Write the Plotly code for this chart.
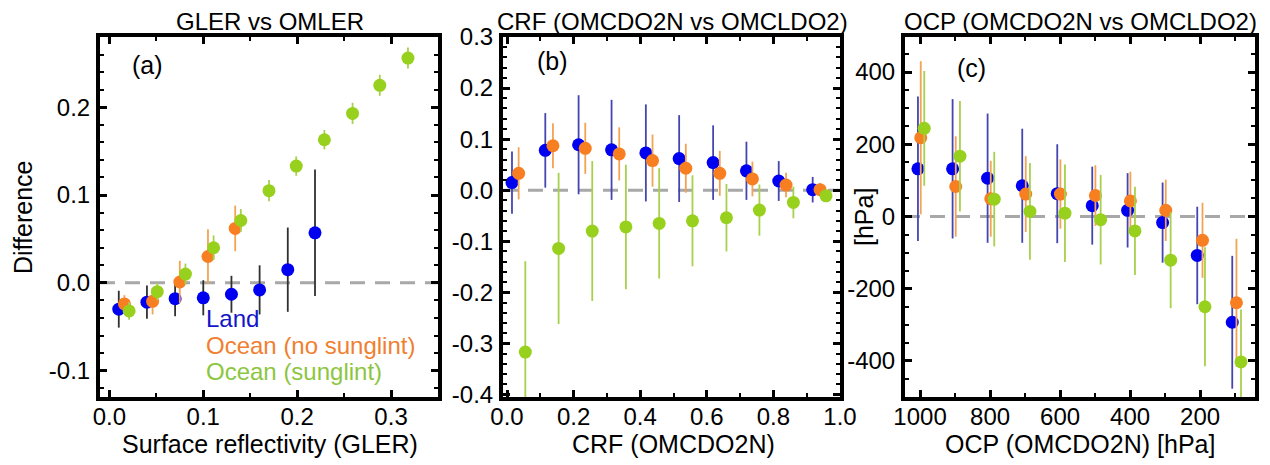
import plotly.graph_objects as go

# ---------------- data ----------------
# Panel (a): GLER vs OMLER, x = surface reflectivity (GLER)
a_land_x = [0.010, 0.040, 0.070, 0.100, 0.130, 0.160, 0.190, 0.219]
a_land_y = [-0.030, -0.022, -0.018, -0.017, -0.013, -0.008, 0.015, 0.057]
a_land_e = [0.021, 0.019, 0.020, 0.020, 0.021, 0.028, 0.048, 0.072]

a_ons_x = [0.016, 0.046, 0.075, 0.105, 0.134]
a_ons_y = [-0.024, -0.021, 0.001, 0.030, 0.062]
a_ons_e = [0.010, 0.015, 0.024, 0.031, 0.026]

a_os_x = [0.021, 0.051, 0.081, 0.111, 0.140, 0.170, 0.199, 0.229, 0.259, 0.288, 0.318]
a_os_y = [-0.032, -0.010, 0.010, 0.040, 0.071, 0.105, 0.133, 0.163, 0.193, 0.225, 0.256]
a_os_e = [0.010, 0.010, 0.012, 0.014, 0.013, 0.012, 0.011, 0.011, 0.012, 0.012, 0.012]

# Panel (b): CRF (OMCDO2N vs OMCLDO2)
b_land_x = [0.015, 0.115, 0.215, 0.314, 0.417, 0.517, 0.619, 0.719, 0.816, 0.918]
b_land_y = [0.015, 0.078, 0.089, 0.079, 0.073, 0.062, 0.054, 0.038, 0.018, 0.001]
b_land_e = [0.061, 0.073, 0.097, 0.098, 0.095, 0.085, 0.073, 0.057, 0.039, 0.025]

b_ons_x = [0.035, 0.138, 0.235, 0.337, 0.437, 0.537, 0.639, 0.737, 0.838, 0.940]
b_ons_y = [0.033, 0.087, 0.082, 0.071, 0.058, 0.043, 0.033, 0.022, 0.010, 0.001]
b_ons_e = [0.051, 0.044, 0.050, 0.052, 0.051, 0.048, 0.044, 0.034, 0.024, 0.013]

b_os_x = [0.055, 0.155, 0.256, 0.357, 0.457, 0.557, 0.659, 0.758, 0.860, 0.958]
b_os_y = [-0.317, -0.114, -0.080, -0.072, -0.065, -0.060, -0.054, -0.039, -0.024, -0.011]
b_os_e = [0.178, 0.148, 0.137, 0.122, 0.108, 0.089, 0.066, 0.050, 0.031, 0.012]

# Panel (c): OCP (OMCDO2N vs OMCLDO2) [hPa]
c_land_x = [1006, 907, 807, 708, 608, 508, 407, 307, 208, 108]
c_land_y = [132, 132, 106, 85, 63, 30, 17, -17, -108, -293]
c_land_e = [200, 193, 179, 158, 137, 108, 103, 111, 135, 184]

c_ons_x = [998, 898, 798, 698, 599, 499, 399, 298, 193, 96]
c_ons_y = [218, 83, 49, 62, 62, 58, 43, 17, -66, -239]
c_ons_e = [212, 139, 105, 105, 96, 84, 81, 85, 104, 177]

c_os_x = [988, 886, 788, 686, 586, 484, 386, 284, 186, 83]
c_os_y = [244, 167, 48, 14, 9, -9, -40, -121, -250, -403]
c_os_e = [159, 153, 131, 134, 135, 124, 122, 133, 165, 145]

# tick labels
a_xticks = [0.0, 0.1, 0.2, 0.3]
a_xlabels = ["0.0", "0.1", "0.2", "0.3"]
a_yticks = [-0.1, 0.0, 0.1, 0.2]
a_ylabels = ["-0.1", "0.0", "0.1", "0.2"]
b_xticks = [0.0, 0.2, 0.4, 0.6, 0.8, 1.0]
b_xlabels = ["0.0", "0.2", "0.4", "0.6", "0.8", "1.0"]
b_yticks = [-0.4, -0.3, -0.2, -0.1, 0.0, 0.1, 0.2, 0.3]
b_ylabels = ["-0.4", "-0.3", "-0.2", "-0.1", "0.0", "0.1", "0.2", "0.3"]
c_xticks = [1000, 800, 600, 400, 200]
c_xlabels = ["1000", "800", "600", "400", "200"]
c_yticks = [-400, -200, 0, 200, 400]
c_ylabels = ["-400", "-200", "0", "200", "400"]

series_names = ["Land", "Ocean (no sunglint)", "Ocean (sunglint)"]

# ---------------- styles ----------------
FONT = "Liberation Sans, Arial, Helvetica, sans-serif"
C_BLUE = "#0000f0"
C_ORANGE = "#f87e22"
C_GREEN = "#98d01e"
E_BLUE = "#4545b0"
E_BLACK = "#303030"
E_ORANGE = "#f2a454"
E_GREEN = "#a8d04c"
T_BLUE = "#1414c8"
T_ORANGE = "#f08030"
T_GREEN = "#8cc63f"

# page body has an 8px default margin; compensate so the drawing lands
# at the same window pixels as the reference
OFF = 8
W, H = 1270 - OFF, 465 - OFF
def px_x(p):
    return (p - OFF) / W
def px_y(p):
    return 1 - (p - OFF) / H

dom_a = [px_x(100), px_x(438)]
dom_b = [px_x(503), px_x(840)]
dom_c = [px_x(905), px_x(1255)]
dom_y = [px_y(397), px_y(37)]

fig = go.Figure()

def add(xs, ys, es, mcol, ecol, xa, ya, name):
    fig.add_trace(go.Scatter(
        x=xs, y=ys, mode="markers", name=name, showlegend=False,
        xaxis=xa, yaxis=ya,
        marker=dict(size=13, color=mcol, line=dict(width=0)),
        error_y=dict(type="data", array=es, visible=True, color=ecol,
                     thickness=1.8, width=0),
    ))

add(a_land_x, a_land_y, a_land_e, C_BLUE, E_BLACK, "x", "y", series_names[0])
add(a_ons_x, a_ons_y, a_ons_e, C_ORANGE, E_ORANGE, "x", "y", series_names[1])
add(a_os_x, a_os_y, a_os_e, C_GREEN, E_GREEN, "x", "y", series_names[2])

add(b_land_x, b_land_y, b_land_e, C_BLUE, E_BLUE, "x2", "y2", series_names[0])
add(b_ons_x, b_ons_y, b_ons_e, C_ORANGE, E_ORANGE, "x2", "y2", series_names[1])
add(b_os_x, b_os_y, b_os_e, C_GREEN, E_GREEN, "x2", "y2", series_names[2])

add(c_land_x, c_land_y, c_land_e, C_BLUE, E_BLUE, "x3", "y3", series_names[0])
add(c_ons_x, c_ons_y, c_ons_e, C_ORANGE, E_ORANGE, "x3", "y3", series_names[1])
add(c_os_x, c_os_y, c_os_e, C_GREEN, E_GREEN, "x3", "y3", series_names[2])

def axis(domain, rng, tv, tt, minor_dtick, anchor, is_x):
    d = dict(
        domain=domain, range=rng, anchor=anchor, automargin=False,
        tickmode="array", tickvals=tv, ticktext=tt,
        showline=True, linewidth=4, linecolor="black", mirror="allticks",
        ticks="inside", ticklen=7, tickwidth=3, tickcolor="black",
        showgrid=False, zeroline=False,
        tickfont=dict(family=FONT, size=24, color="black"),
        minor=dict(ticks="inside", ticklen=4, tickwidth=2, tickcolor="black",
                   dtick=minor_dtick, tick0=0, showgrid=False),
        fixedrange=True,
    )
    d["ticklabelstandoff"] = -5 if is_x else 1
    return d

fig.update_layout(
    xaxis=axis(dom_a, [-0.01, 0.35], a_xticks, a_xlabels, 0.05, "y", True),
    yaxis=axis(dom_y, [-0.13, 0.28], a_yticks, a_ylabels, 0.02, "x", False),
    xaxis2=axis(dom_b, [-0.012, 1.0], b_xticks, b_xlabels, 0.1, "y2", True),
    yaxis2=axis(dom_y, [-0.405, 0.30], b_yticks, b_ylabels, 0.02, "x2", False),
    xaxis3=axis(dom_c, [1043, 43], c_xticks, c_xlabels, 100, "y3", True),
    yaxis3=axis(dom_y, [-500, 497], c_yticks, c_ylabels, 50, "x3", False),
)

# dashed zero lines
for xr, yr in [("x domain", "y"), ("x2 domain", "y2"), ("x3 domain", "y3")]:
    fig.add_shape(type="line", xref=xr, yref=yr, x0=0, x1=1, y0=0, y1=0,
                  line=dict(color="#a8a8a8", width=3, dash="15px,10px"),
                  layer="below")

ann = []
def text(x, y, s, size=23, color="black", xanchor="center", angle=0):
    ann.append(dict(x=x, y=y, xref="paper", yref="paper", text=s,
                    showarrow=False, xanchor=xanchor, yanchor="middle",
                    textangle=angle,
                    font=dict(family=FONT, size=size, color=color)))

# panel titles
text(px_x(270), px_y(21), "GLER vs OMLER", size=24)
text(px_x(672), px_y(21), "CRF (OMCDO2N vs OMCLDO2)", size=24)
text(px_x(1080), px_y(21), "OCP (OMCDO2N vs OMCLDO2)", size=24)
# x titles
text(px_x(270), px_y(444), "Surface reflectivity (GLER)", size=25)
text(px_x(673), px_y(444), "CRF (OMCDO2N)", size=25)
text(px_x(1080), px_y(444), "OCP (OMCDO2N) [hPa]", size=25)
# y titles
text(px_x(23), px_y(217), "Difference", size=25, angle=-90)
text(px_x(864), px_y(217), "[hPa]", size=25, angle=-90)
# panel labels
text(px_x(147), px_y(65), "(a)", size=25)
text(px_x(552), px_y(61), "(b)", size=25)
text(px_x(971), px_y(68), "(c)", size=25)
# legend texts
text(px_x(204), px_y(318), series_names[0], size=24, color=T_BLUE, xanchor="left")
text(px_x(204), px_y(345), series_names[1], size=24, color=T_ORANGE, xanchor="left")
text(px_x(204), px_y(371), series_names[2], size=24, color=T_GREEN, xanchor="left")

fig.update_layout(
    annotations=ann,
    width=W, height=H,
    margin=dict(l=0, r=0, t=0, b=0),
    paper_bgcolor="white", plot_bgcolor="white",
    showlegend=False,
    font=dict(family=FONT, color="black"),
)

fig.write_html("out.html")
